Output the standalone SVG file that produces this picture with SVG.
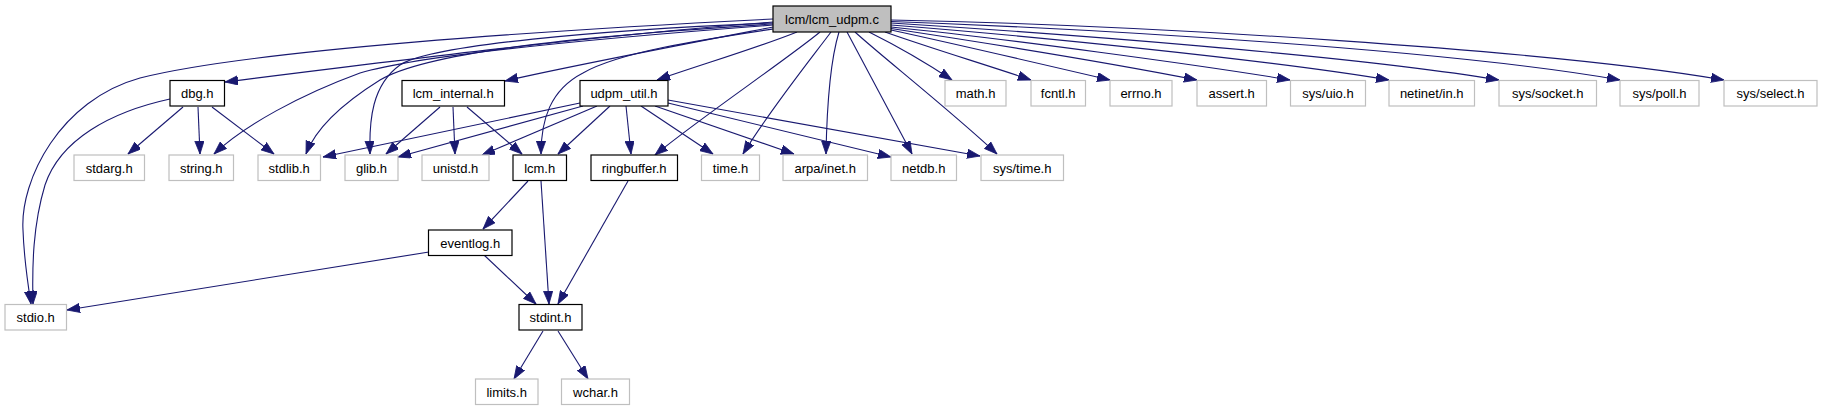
<svg xmlns="http://www.w3.org/2000/svg" width="1823" height="411" viewBox="0 0 1823 411">
<style>
rect{fill:#fff;stroke:#000;stroke-width:1.2}
.x rect{stroke:#bfbfbf}
.r rect{fill:#bfbfbf}
text{font-family:"Liberation Sans",Arial,sans-serif;font-size:13px;text-anchor:middle;fill:#000}
#edges path{fill:none;stroke:#191970;stroke-width:1.1;marker-end:url(#a)}
</style>
<defs>
<marker id="a" markerUnits="userSpaceOnUse" markerWidth="14" markerHeight="10" refX="13" refY="4.65" orient="auto">
<path d="M0,0 L13,4.65 L0,9.3 z" fill="#191970" stroke="#191970" stroke-width="0.8"/>
</marker>
</defs>
<rect x="0" y="0" width="1823" height="411" style="fill:#fff;stroke:none"/>
<g id="edges">
<!-- root left -->
<path d="M773,19 C550,30 250,50 140,78 C60,100 20,180 23,230 C24,260 28,285 31,304"/>
<path d="M773,22 C600,35 400,60 225,82"/>
<path d="M773,25 C600,38 420,55 360,73 C300,95 245,125 214,154"/>
<path d="M773,24 C600,35 430,50 380,80 C340,105 315,130 306,154"/>
<path d="M773,23 C600,30 430,45 400,65 C372,85 369,120 370,154"/>
<path d="M773,27 C680,45 560,68 505,81"/>
<path d="M773,29 C700,40 620,52 583,73 C550,90 541,120 541,154"/>
<!-- root bottom -->
<path d="M797,32 C760,47 700,65 657,80"/>
<path d="M820,32 C790,57 700,118 655,155"/>
<path d="M831,32 C810,60 770,110 743,154"/>
<path d="M839,32 C832,55 827,100 826,154"/>
<path d="M847,32 L912,154"/>
<path d="M855,32 C880,55 950,110 997,154"/>
<path d="M869,32 C895,45 925,62 952,80"/>
<!-- root right -->
<path d="M885,32 C930,48 990,66 1031,80"/>
<path d="M891,30 C960,45 1050,66 1110,80"/>
<path d="M891,28.5 C980,42 1120,65 1197,80"/>
<path d="M891,27 C1000,38 1200,65 1290,80"/>
<path d="M891,25 C1030,36 1270,60 1389,80"/>
<path d="M891,23 C1050,33 1350,55 1499,80"/>
<path d="M891,21.5 C1100,29 1450,50 1620,80"/>
<path d="M891,20 C1150,25 1550,50 1724,80"/>
<!-- dbg -->
<path d="M170,99 C110,112 60,140 45,185 C33,225 32,265 33,304"/>
<path d="M183,107 L128,154"/>
<path d="M198,107 L200,154"/>
<path d="M212,107 L274,154"/>
<!-- lcm_internal -->
<path d="M440,107 L386,154"/>
<path d="M453,107 L455,154"/>
<path d="M467,107 L522,154"/>
<!-- udpm_util -->
<path d="M580,103 L323,157"/>
<path d="M583,106 L398,157"/>
<path d="M597,106 L482,155"/>
<path d="M610,106 L558,154"/>
<path d="M626,106 L631,154"/>
<path d="M641,106 L713,154"/>
<path d="M655,106 L794,154"/>
<path d="M668,103 L891,157"/>
<path d="M668,100 L980,156"/>
<!-- lcm.h -->
<path d="M528,181 L483,229"/>
<path d="M541,181 L549,304"/>
<!-- ringbuffer -->
<path d="M628,181 L558,304"/>
<!-- eventlog -->
<path d="M484,255 L536,304"/>
<path d="M429,252 L67,310"/>
<!-- stdint -->
<path d="M543,331 L514,379"/>
<path d="M558,331 L588,379"/>
</g>
<g id="n-root" class="r"><rect x="773" y="6" width="118" height="26"/><text x="832" y="24">lcm/lcm_udpm.c</text></g>
<g id="n-dbg"><rect x="170" y="80.5" width="54.5" height="25.5"/><text x="197.2" y="98.3">dbg.h</text></g>
<g id="n-lcm_internal"><rect x="402" y="80.5" width="102.5" height="25.5"/><text x="453.2" y="98.3">lcm_internal.h</text></g>
<g id="n-udpm_util"><rect x="580" y="80.5" width="88" height="25.5"/><text x="624" y="98.3">udpm_util.h</text></g>
<g id="n-math" class="x"><rect x="945" y="80.5" width="61" height="25.5"/><text x="975.5" y="98.3">math.h</text></g>
<g id="n-fcntl" class="x"><rect x="1031" y="80.5" width="54.5" height="25.5"/><text x="1058.2" y="98.3">fcntl.h</text></g>
<g id="n-errno" class="x"><rect x="1110" y="80.5" width="62" height="25.5"/><text x="1141" y="98.3">errno.h</text></g>
<g id="n-assert" class="x"><rect x="1197" y="80.5" width="69.5" height="25.5"/><text x="1231.7" y="98.3">assert.h</text></g>
<g id="n-sys_uio" class="x"><rect x="1290.5" y="80.5" width="75" height="25.5"/><text x="1328" y="98.3">sys/uio.h</text></g>
<g id="n-netinet_in" class="x"><rect x="1389" y="80.5" width="85.5" height="25.5"/><text x="1431.7" y="98.3">netinet/in.h</text></g>
<g id="n-sys_socket" class="x"><rect x="1499" y="80.5" width="97.5" height="25.5"/><text x="1547.7" y="98.3">sys/socket.h</text></g>
<g id="n-sys_poll" class="x"><rect x="1620" y="80.5" width="79" height="25.5"/><text x="1659.5" y="98.3">sys/poll.h</text></g>
<g id="n-sys_select" class="x"><rect x="1724" y="80.5" width="93" height="25.5"/><text x="1770.5" y="98.3">sys/select.h</text></g>
<g id="n-stdarg" class="x"><rect x="74" y="155" width="70.5" height="25.5"/><text x="109.2" y="172.8">stdarg.h</text></g>
<g id="n-string" class="x"><rect x="169" y="155" width="64.5" height="25.5"/><text x="201.2" y="172.8">string.h</text></g>
<g id="n-stdlib" class="x"><rect x="258" y="155" width="62.5" height="25.5"/><text x="289.2" y="172.8">stdlib.h</text></g>
<g id="n-glib" class="x"><rect x="345" y="155" width="53" height="25.5"/><text x="371.5" y="172.8">glib.h</text></g>
<g id="n-unistd" class="x"><rect x="422" y="155" width="67" height="25.5"/><text x="455.5" y="172.8">unistd.h</text></g>
<g id="n-lcm"><rect x="513" y="155" width="53.5" height="25.5"/><text x="539.7" y="172.8">lcm.h</text></g>
<g id="n-ringbuffer"><rect x="591" y="155" width="86.5" height="25.5"/><text x="634.2" y="172.8">ringbuffer.h</text></g>
<g id="n-time" class="x"><rect x="701.5" y="155" width="58" height="25.5"/><text x="730.5" y="172.8">time.h</text></g>
<g id="n-arpa_inet" class="x"><rect x="783" y="155" width="84.5" height="25.5"/><text x="825.2" y="172.8">arpa/inet.h</text></g>
<g id="n-netdb" class="x"><rect x="891" y="155" width="65.5" height="25.5"/><text x="923.7" y="172.8">netdb.h</text></g>
<g id="n-sys_time" class="x"><rect x="981" y="155" width="82.5" height="25.5"/><text x="1022.2" y="172.8">sys/time.h</text></g>
<g id="n-eventlog"><rect x="428.5" y="230" width="83.5" height="25.5"/><text x="470.2" y="247.8">eventlog.h</text></g>
<g id="n-stdio" class="x"><rect x="5" y="304.5" width="61.5" height="25.5"/><text x="35.7" y="322.3">stdio.h</text></g>
<g id="n-stdint"><rect x="519" y="304.5" width="63" height="25.5"/><text x="550.5" y="322.3">stdint.h</text></g>
<g id="n-limits" class="x"><rect x="475.5" y="379" width="62.5" height="25.5"/><text x="506.7" y="396.8">limits.h</text></g>
<g id="n-wchar" class="x"><rect x="561.5" y="379" width="68" height="25.5"/><text x="595.5" y="396.8">wchar.h</text></g>
</svg>
